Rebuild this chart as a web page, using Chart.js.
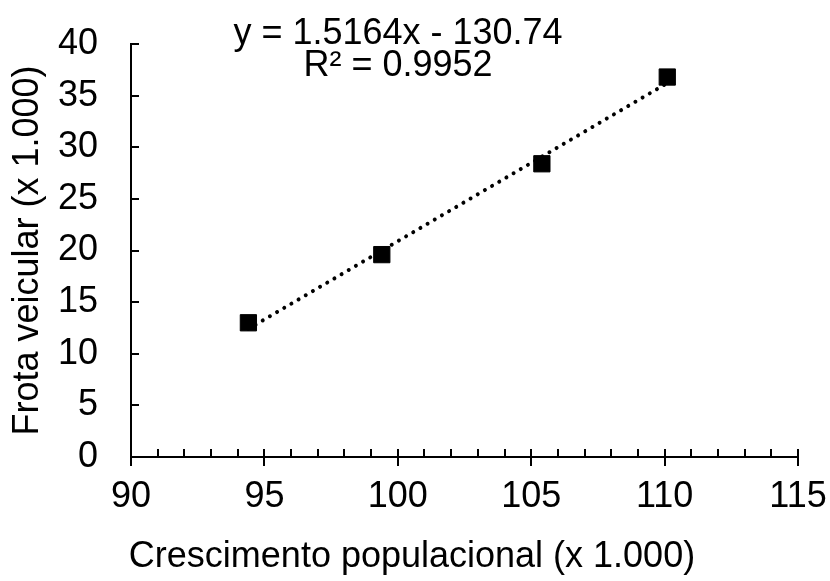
<!DOCTYPE html>
<html><head><meta charset="utf-8">
<script src="https://cdn.jsdelivr.net/npm/chart.js@4/dist/chart.umd.min.js"></script>
<style>html,body{margin:0;padding:0;background:#fff}#wrap{width:830px;height:581px;position:relative}</style>
</head><body><div id="wrap"><canvas id="c"></canvas></div>
<script>
// ---- data ----
const populacao = [94.4, 99.4, 105.4, 110.1];   // Crescimento populacional (x 1.000)
const frota = [13.0, 19.6, 28.4, 36.8];          // Frota veicular (x 1.000)
const xTicks = [90, 95, 100, 105, 110, 115];
const yTicks = [0, 5, 10, 15, 20, 25, 30, 35, 40];
const slope = 1.5164;
const intercept = -130.74;
const eqLines = ['y = 1.5164x - 130.74', 'R² = 0.9952'];
const xTitle = 'Crescimento populacional (x 1.000)';
const yTitle = 'Frota veicular (x 1.000)';

const FONT = '"Liberation Sans", Arial, sans-serif';
const pts = populacao.map((v, i) => ({x: v, y: frota[i]}));
const xFirst = populacao[0], xLast = populacao[populacao.length - 1];
const trend = [xFirst, xLast].map(v => ({x: v, y: slope * v + intercept}));

const deco = {
  id: 'deco',
  beforeDraw(chart) {
    const c = chart.ctx;
    c.save(); c.fillStyle = '#fff'; c.fillRect(0, 0, chart.width, chart.height); c.restore();
  },
  afterDraw(chart) {
    const c = chart.ctx, a = chart.chartArea, x = chart.scales.x, y = chart.scales.y;
    c.save();
    c.strokeStyle = '#000'; c.lineWidth = 2;
    const x0 = xTicks[0], x1 = xTicks[xTicks.length - 1];
    for (let v = x0; v <= x1; v++) {
      const px = Math.round(x.getPixelForValue(v));
      const major = xTicks.includes(v);
      c.beginPath();
      c.moveTo(px, a.bottom + (major ? 9 : 0));
      c.lineTo(px, a.bottom - 8);
      c.stroke();
    }
    yTicks.forEach(v => {
      const py = Math.round(y.getPixelForValue(v));
      c.beginPath(); c.moveTo(a.left, py); c.lineTo(a.left + 8, py); c.stroke();
    });
    c.fillStyle = '#000';
    c.textAlign = 'center'; c.textBaseline = 'alphabetic';
    c.font = '36px ' + FONT;
    c.fillText(xTitle, 412, 567);
    c.fillText(eqLines[0], 398, 44);
    c.fillText(eqLines[1], 398, 76);
    c.restore();
  }
};

new Chart(document.getElementById('c'), {
  type: 'scatter',
  data: {
    datasets: [
      {
        data: pts,
        pointStyle: 'rect',
        pointRadius: 11.5,
        pointHoverRadius: 11.5,
        backgroundColor: '#000',
        borderColor: '#000',
        borderWidth: 1
      },
      {
        type: 'line',
        data: trend,
        borderColor: '#000',
        borderWidth: 4,
        borderDash: [0.01, 8.3],
        borderCapStyle: 'round',
        pointRadius: 0,
        fill: false
      }
    ]
  },
  options: {
    responsive: true,
    maintainAspectRatio: false,
    devicePixelRatio: 1,
    animation: false,
    layout: {padding: {left: 0, top: 44, right: 32, bottom: 0}},
    plugins: {legend: {display: false}, tooltip: {enabled: false}},
    scales: {
      x: {
        type: 'linear', min: xTicks[0], max: xTicks[xTicks.length - 1],
        afterBuildTicks: s => { s.ticks = xTicks.map(v => ({value: v})); },
        ticks: {font: {family: FONT, size: 36}, color: '#000', padding: 18, maxRotation: 0},
        grid: {display: false, drawTicks: false},
        border: {display: true, color: '#000', width: 2},
        afterFit: s => { s.height = 124; s.paddingLeft = 0; s.paddingRight = 0; }
      },
      y: {
        type: 'linear', min: yTicks[0], max: yTicks[yTicks.length - 1],
        afterBuildTicks: s => { s.ticks = yTicks.map(v => ({value: v})); },
        ticks: {font: {family: FONT, size: 36}, color: '#000', padding: 33},
        grid: {display: false, drawTicks: false},
        border: {display: true, color: '#000', width: 2},
        title: {display: true, text: yTitle, color: '#000', font: {family: FONT, size: 36}, padding: {top: 6, bottom: 0}},
        afterFit: s => { s.width = 131; s.paddingTop = 0; s.paddingBottom = 0; }
      }
    }
  },
  plugins: [deco]
});
</script>
</body></html>
